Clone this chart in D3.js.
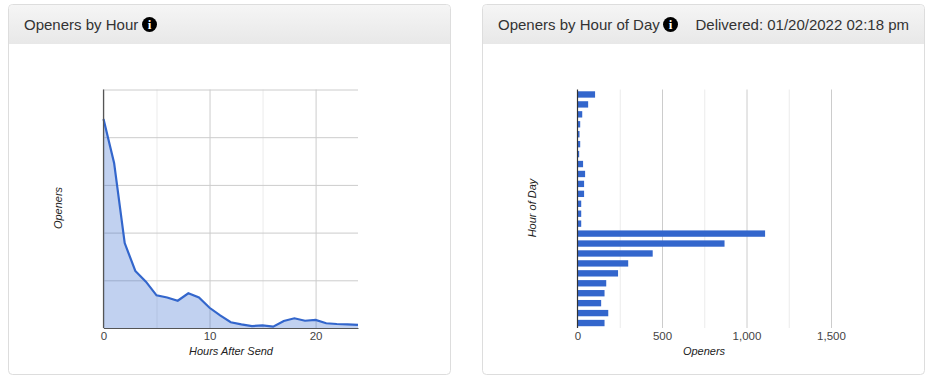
<!DOCTYPE html>
<html lang="en">
<head>
    <meta charset="UTF-8">
    <title>Openers</title>
    <script type="text/javascript" src="https://cdn.jsdelivr.net/npm/d3@7/dist/d3.min.js"></script>
    <style type="text/css">
        body { margin: 0; background: #fff; }
        svg { display: block; font-family: "Liberation Sans", Arial, sans-serif; }
        .tick text { font-size: 11.5px; fill: #444; }
        .axis-title { font-size: 11px; font-style: italic; fill: #222; }
        .panel-title { font-size: 15px; fill: #333; }
    </style>
</head>
<body>
    <script type="text/javascript">
        //Data
        var hoursAfterSend = [0, 1, 2, 3, 4, 5, 6, 7, 8, 9, 10, 11, 12, 13, 14, 15, 16, 17, 18, 19, 20, 21, 22, 23, 24];
        var openersAfterSend = [1095, 865, 445, 299, 243, 171, 160, 143, 182, 160, 106, 66, 30, 19, 10, 14, 7, 37, 51, 38, 42, 25, 21, 19, 16];

        var hoursOfDay = [0, 1, 2, 3, 4, 5, 6, 7, 8, 9, 10, 11, 12, 13, 14, 15, 16, 17, 18, 19, 20, 21, 22, 23];
        var openersOfDay = [104, 63, 28, 16, 12, 16, 10, 33, 45, 39, 39, 22, 22, 22, 1110, 870, 445, 300, 240, 170, 160, 140, 182, 160];

        var xTicksLeft = [0, 10, 20];
        var xMinorLeft = [5, 15];
        var yGridLeft = [0, 250, 500, 750, 1000, 1250];
        var xTicksRight = [0, 500, 1000, 1500];
        var xMinorRight = [250, 750, 1250];

        //Width and height
        var w = 930;
        var h = 378;
        var plotTop = 89.5;
        var plotBottom = 328;

        var svg = d3.select("body")
            .append("svg")
            .attr("width", w)
            .attr("height", h);

        var defs = svg.append("defs");
        var grad = defs.append("linearGradient")
            .attr("id", "head")
            .attr("x1", 0).attr("x2", 0).attr("y1", 0).attr("y2", 1);
        grad.append("stop").attr("offset", 0).attr("stop-color", "#f5f5f5");
        grad.append("stop").attr("offset", 1).attr("stop-color", "#e8e8e8");

        //Card with header, title and info icon
        function panel(x, width, title, iconX) {
            svg.append("rect")
                .attr("x", x).attr("y", 4.5)
                .attr("width", width).attr("height", 370)
                .attr("rx", 4)
                .attr("fill", "#fff")
                .attr("stroke", "#ddd");
            svg.append("path")
                .attr("d", "M" + (x + 0.5) + ",44 V9 a4,4 0 0 1 4,-4 H" + (x + width - 4.5) +
                    " a4,4 0 0 1 4,4 V44 Z")
                .attr("fill", "url(#head)");
            svg.append("text")
                .attr("class", "panel-title")
                .attr("x", x + 15.5).attr("y", 30)
                .text(title);
            svg.append("circle")
                .attr("cx", iconX).attr("cy", 24.5).attr("r", 7.5)
                .attr("fill", "#000");
            svg.append("text")
                .attr("x", iconX).attr("y", 29)
                .attr("text-anchor", "middle")
                .attr("font-family", "'Liberation Serif', serif")
                .attr("font-weight", "bold")
                .attr("font-size", "13px")
                .attr("fill", "#fff")
                .text("i");
        }

        function grid(g, axis, color) {
            g.call(axis);
            g.select(".domain").remove();
            g.selectAll(".tick line").attr("stroke", color);
        }

        function axisTitle(x, y, text, rotate) {
            svg.append("text")
                .attr("class", "axis-title")
                .attr("text-anchor", "middle")
                .attr("transform", "translate(" + x + "," + y + ")" + (rotate ? " rotate(-90)" : ""))
                .text(text);
        }

        panel(8.5, 442, "Openers by Hour", 149.5);
        panel(482.5, 442, "Openers by Hour of Day", 670.5);
        svg.append("text")
            .attr("class", "panel-title")
            .attr("x", 909).attr("y", 30)
            .attr("text-anchor", "end")
            .text("Delivered: 01/20/2022 02:18 pm");

        //Left chart
        var xLeft = d3.scaleLinear().domain([0, 24]).range([103.5, 358]);
        var yLeft = d3.scaleLinear().domain([0, 1250]).range([plotBottom, plotTop]);

        grid(svg.append("g").attr("transform", "translate(0," + plotBottom + ")"),
            d3.axisBottom(xLeft).tickValues(xMinorLeft).tickSize(plotTop - plotBottom).tickFormat(""), "#ebebeb");
        grid(svg.append("g").attr("transform", "translate(0," + plotBottom + ")"),
            d3.axisBottom(xLeft).tickValues(xTicksLeft).tickSize(plotTop - plotBottom).tickFormat(""), "#ccc");
        grid(svg.append("g").attr("transform", "translate(103.5,0)"),
            d3.axisLeft(yLeft).tickValues(yGridLeft).tickSize(-(358 - 103.5)).tickFormat(""), "#ccc");

        var points = hoursAfterSend.map(function(d, i) {
            return [d, openersAfterSend[i]];
        });

        var area = d3.area()
            .x(function(d) { return xLeft(d[0]); })
            .y0(yLeft(0))
            .y1(function(d) { return yLeft(d[1]); });

        var line = d3.line()
            .x(function(d) { return xLeft(d[0]); })
            .y(function(d) { return yLeft(d[1]); });

        svg.append("path")
            .attr("d", area(points))
            .attr("fill", "#3366cc")
            .attr("fill-opacity", 0.3);

        svg.append("path")
            .attr("d", line(points))
            .attr("fill", "none")
            .attr("stroke", "#3366cc")
            .attr("stroke-width", 2.2);

        var xAxisLeft = svg.append("g").attr("transform", "translate(0," + plotBottom + ")");
        xAxisLeft.call(d3.axisBottom(xLeft).tickValues(xTicksLeft).tickSize(0).tickPadding(4).tickFormat(d3.format("d")));
        xAxisLeft.select(".domain").attr("stroke", "#555").attr("stroke-width", 1.2);

        svg.append("line")
            .attr("x1", 103.5).attr("x2", 103.5)
            .attr("y1", plotTop).attr("y2", plotBottom)
            .attr("stroke", "#555")
            .attr("stroke-width", 1.2);

        axisTitle(231, 355, "Hours After Send");
        axisTitle(62, 208, "Openers", true);

        //Right chart
        var xRight = d3.scaleLinear().domain([0, 1500]).range([577.5, 831]);
        var yRight = d3.scaleBand().domain(hoursOfDay).range([plotTop, plotBottom]).paddingInner(0.36).paddingOuter(0.18);

        grid(svg.append("g").attr("transform", "translate(0," + plotBottom + ")"),
            d3.axisBottom(xRight).tickValues(xMinorRight).tickSize(plotTop - plotBottom).tickFormat(""), "#ebebeb");
        grid(svg.append("g").attr("transform", "translate(0," + plotBottom + ")"),
            d3.axisBottom(xRight).tickValues(xTicksRight.slice(1)).tickSize(plotTop - plotBottom).tickFormat(""), "#ccc");

        svg.selectAll("rect.bar")
            .data(openersOfDay)
            .enter()
            .append("rect")
            .attr("class", "bar")
            .attr("x", xRight(0))
            .attr("y", function(d, i) { return yRight(hoursOfDay[i]); })
            .attr("width", function(d) { return xRight(d) - xRight(0); })
            .attr("height", yRight.bandwidth())
            .attr("fill", "#3366cc");

        var xAxisRight = svg.append("g").attr("transform", "translate(0," + plotBottom + ")");
        xAxisRight.call(d3.axisBottom(xRight).tickValues(xTicksRight).tickSize(0).tickPadding(4).tickFormat(d3.format(",")));
        xAxisRight.select(".domain").remove();

        svg.append("line")
            .attr("x1", 577.5).attr("x2", 577.5)
            .attr("y1", plotTop).attr("y2", plotBottom)
            .attr("stroke", "#333")
            .attr("stroke-width", 1.2);

        axisTitle(704, 355, "Openers");
        axisTitle(536, 208, "Hour of Day", true);
    </script>
</body>
</html>
